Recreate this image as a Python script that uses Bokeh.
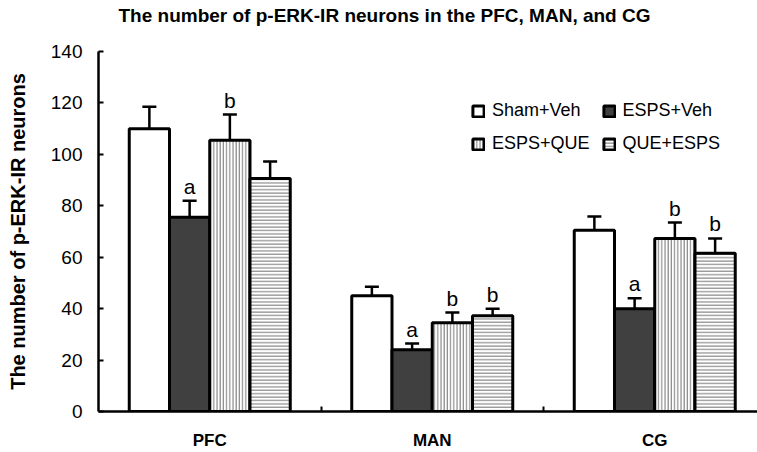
import numpy as np
from bokeh.plotting import figure
from bokeh.models import (ColumnDataSource, Range1d, FixedTicker, Whisker, TeeHead,
                          Legend, LegendItem, Title)
from bokeh.core.properties import value
from bokeh.embed import file_html
from bokeh.resources import INLINE

# ---- data ----
groups = ["PFC", "MAN", "CG"]
series = ["Sham+Veh", "ESPS+Veh", "ESPS+QUE", "QUE+ESPS"]
sham_veh = [110.0, 45.0, 70.5]
esps_veh = [75.5, 24.0, 40.0]
esps_que = [105.5, 34.5, 67.3]
que_esps = [90.6, 37.2, 61.5]
sham_veh_err = [8.5, 3.5, 5.3]
esps_veh_err = [6.5, 2.4, 4.0]
esps_que_err = [10.0, 4.0, 6.2]
que_esps_err = [6.6, 2.8, 5.8]
sham_veh_sig = ["", "", ""]
esps_veh_sig = ["a", "a", "a"]
esps_que_sig = ["b", "b", "b"]
que_esps_sig = ["", "b", "b"]
y_ticks = [0, 20, 40, 60, 80, 100, 120, 140]

means = [sham_veh, esps_veh, esps_que, que_esps]
errs = [sham_veh_err, esps_veh_err, esps_que_err, que_esps_err]
sigs = [sham_veh_sig, esps_veh_sig, esps_que_sig, que_esps_sig]

FONT = "Liberation Sans"
W, H = 757, 452
LB, TB, BB = 98, 51, 41
frame_w = W - LB
px_per_group = 222.5
bar_w = 40.25 / px_per_group

p = figure(width=W, height=H, output_backend="svg", toolbar_location=None,
           x_range=Range1d(0, frame_w / px_per_group), y_range=Range1d(0, 140),
           min_border_left=LB, min_border_right=0, min_border_top=TB,
           min_border_bottom=BB)
p.outline_line_color = None
p.xgrid.grid_line_color = None
p.ygrid.grid_line_color = None
p.background_fill_color = "white"

# main title (outermost) and a spacer between it and the frame
p.title.text = "The number of p-ERK-IR neurons in the PFC, MAN, and CG"
p.title.align = "left"
p.title.offset = 20
p.title.standoff = 4
p.title.text_font = FONT
p.title.text_font_style = "bold"
p.title.text_font_size = "19px"
p.title.text_color = "black"
spacer = Title(text=" ", text_font_size="1px", standoff=21)
p.add_layout(spacer, "above")

styles = [
    dict(fill_color="white"),
    dict(fill_color="#404040"),
    dict(fill_color="white", hatch_pattern="|", hatch_color="#8a8a8a",
         hatch_scale=3.2, hatch_weight=1.2),
    dict(fill_color="white", hatch_pattern="-", hatch_color="#8a8a8a",
         hatch_scale=3.4, hatch_weight=1.2),
]

centers = np.arange(len(groups)) + 0.5
renderers = []
for i, name in enumerate(series):
    xs = centers + (i - 1.5) * bar_w
    src = ColumnDataSource(dict(x=xs, top=means[i],
                                upper=np.array(means[i]) + np.array(errs[i]),
                                sig=sigs[i]))
    w = Whisker(source=src, base="x", lower="top", upper="upper", dimension="height",
                line_width=2.5, line_color="black",
                upper_head=TeeHead(size=14, line_width=2.5, line_color="black"),
                lower_head=None, level="underlay")
    p.add_layout(w)
    r = p.vbar(x="x", top="top", width=bar_w, bottom=0, source=src,
               line_color="black", line_width=3, **styles[i])
    renderers.append(r)
    p.text(x="x", y="upper", text="sig", source=src, text_align="center",
           text_baseline="bottom", y_offset=-3, text_font=value(FONT),
           text_font_size="21px", text_color="black")

# axes
p.yaxis.ticker = FixedTicker(ticks=y_ticks)
p.yaxis.major_tick_in = 5
p.yaxis.major_tick_out = 0
p.yaxis.minor_tick_out = 0
p.yaxis.major_tick_line_width = 2
p.yaxis.minor_tick_line_color = None
p.yaxis.axis_line_width = 2.5
p.yaxis.major_label_standoff = 16
p.yaxis.major_label_text_font = FONT
p.yaxis.major_label_text_font_size = "19px"
p.yaxis.major_label_text_color = "black"
p.yaxis.axis_label = "The number of p-ERK-IR neurons"
p.yaxis.axis_label_standoff = 19
p.yaxis.axis_label_text_font = FONT
p.yaxis.axis_label_text_font_style = "bold"
p.yaxis.axis_label_text_font_size = "20px"
p.yaxis.axis_label_text_color = "black"

p.xaxis.ticker = FixedTicker(ticks=list(centers), minor_ticks=[1.0, 2.0])
p.xaxis.major_label_overrides = {float(c): g for c, g in zip(centers, groups)}
p.xaxis.major_tick_line_color = None
p.xaxis.major_tick_in = 0
p.xaxis.major_tick_out = 0
p.xaxis.minor_tick_in = 5
p.xaxis.minor_tick_out = 0
p.xaxis.minor_tick_line_width = 2
p.xaxis.axis_line_width = 2.5
p.xaxis.major_label_standoff = 19
p.xaxis.major_label_text_font = FONT
p.xaxis.major_label_text_font_style = "bold"
p.xaxis.major_label_text_font_size = "17px"
p.xaxis.major_label_text_color = "black"

legend = Legend(items=[LegendItem(label=n, renderers=[r]) for n, r in zip(series, renderers)],
                location=(373, 257), orientation="horizontal", ncols=2,
                glyph_width=14, glyph_height=14, label_standoff=7, label_width=97,
                label_height=20, spacing=12, padding=0, margin=0,
                label_text_font=FONT, label_text_font_size="18px",
                label_text_color="black", border_line_color=None,
                background_fill_alpha=0)
p.add_layout(legend, "center")

open("out.html", "w").write(file_html(p, INLINE))
